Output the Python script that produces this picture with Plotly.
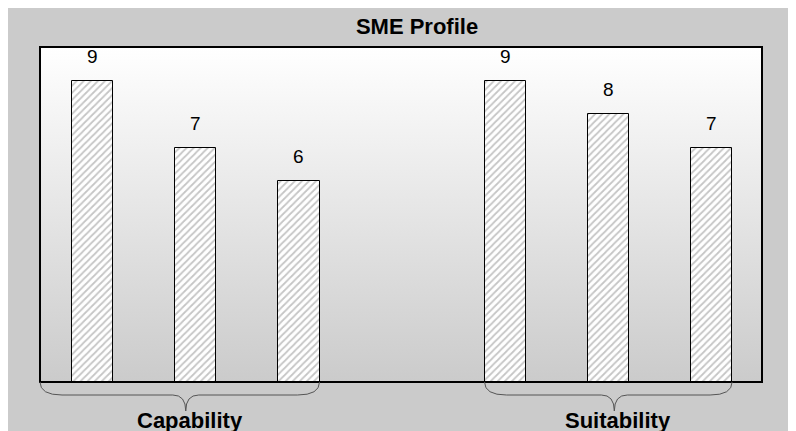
import plotly.graph_objects as go

# ---- data ----
groups = ["Capability", "Suitability"]
positions = [0, 1, 2, 4, 5, 6]
values = [9, 7, 6, 9, 8, 7]
group_members = [[0, 1, 2], [3, 4, 5]]
title_text = "SME Profile"

# ---- layout constants ----
W, H = 796, 431
ML, MR, MT, MB = 32, 42, 39, 57
XMIN, XMAX = -0.51, 6.49
YMIN, YMAX = 0, 10
BAR_W = 0.4
FONT = "Arial, Liberation Sans, sans-serif"
PW = W - ML - MR
PH = H - MT - MB

def xp(x):
    return (x - XMIN) / (XMAX - XMIN)

fig = go.Figure()

# gradient plot background (main axes, drawn underneath)
fig.add_trace(go.Scatter(
    x=[XMIN, XMAX, XMAX, XMIN, XMIN], y=[YMIN, YMIN, YMAX, YMAX, YMIN],
    mode="lines", line=dict(width=0), fill="toself",
    fillgradient=dict(type="vertical", colorscale=[[0, "#cbcbcb"], [1, "#ffffff"]]),
    hoverinfo="skip", showlegend=False, xaxis="x", yaxis="y"))

# bars on overlaying axes so they sit above the gradient
fig.add_trace(go.Bar(
    x=positions, y=values, width=BAR_W, showlegend=False, xaxis="x2", yaxis="y2",
    marker=dict(color="white", line=dict(color="black", width=1),
                pattern=dict(shape="/", fgcolor="#8c8c8c", bgcolor="white",
                             size=5, solidity=0.35))))

annotations = []
for p, v in zip(positions, values):
    annotations.append(dict(x=p, y=v, xref="x2", yref="y2", text=str(v), showarrow=False,
                            yanchor="bottom", yshift=12,
                            font=dict(family=FONT, size=19, color="black")))

shapes = []
# plot border
shapes.append(dict(type="rect", xref="paper", yref="paper", layer="above",
                   x0=0, x1=1, y0=0, y1=1, line=dict(color="black", width=2)))

# braces
d1 = -13 / PH
tip = -29 / PH
r = 22 / PW
r2 = 13 / PW
brace_starts = [XMIN, None]
for gi, (g, members) in enumerate(zip(groups, group_members)):
    pos = [positions[i] for i in members]
    x0 = xp(brace_starts[gi]) if brace_starts[gi] is not None else xp(min(pos) - BAR_W / 2)
    x1 = xp(max(pos) + BAR_W / 2)
    xm = (x0 + x1) / 2 + 6 / PW
    path = (f"M {x0},0 Q {x0},{d1} {x0 + r},{d1} L {xm - r2},{d1} "
            f"Q {xm},{d1} {xm},{tip} Q {xm},{d1} {xm + r2},{d1} "
            f"L {x1 - r},{d1} Q {x1},{d1} {x1},0")
    shapes.append(dict(type="path", xref="paper", yref="paper", path=path,
                       line=dict(color="#555555", width=1)))
    annotations.append(dict(x=xm + 4 / PW, y=-(38.5 / PH), xref="paper", yref="paper",
                            text=f"<b>{g}</b>", showarrow=False,
                            xanchor="center", yanchor="middle",
                            font=dict(family=FONT, size=22, color="black")))

axis_common = dict(visible=False, fixedrange=True)
fig.update_layout(
    width=W, height=H,
    margin=dict(l=ML, r=MR, t=MT, b=MB),
    paper_bgcolor="#cbcbcb", plot_bgcolor="rgba(0,0,0,0)",
    title=dict(text=f"<b>{title_text}</b>", x=409 / W, xref="container", xanchor="center",
               y=1 - 18 / H, yref="container", yanchor="middle",
               font=dict(family=FONT, size=22, color="black")),
    xaxis=dict(range=[XMIN, XMAX], **axis_common),
    yaxis=dict(range=[YMIN, YMAX], **axis_common),
    xaxis2=dict(range=[XMIN, XMAX], overlaying="x", **axis_common),
    yaxis2=dict(range=[YMIN, YMAX], overlaying="y", **axis_common),
    shapes=shapes, annotations=annotations, bargap=0,
)

fig.write_html("out.html")
